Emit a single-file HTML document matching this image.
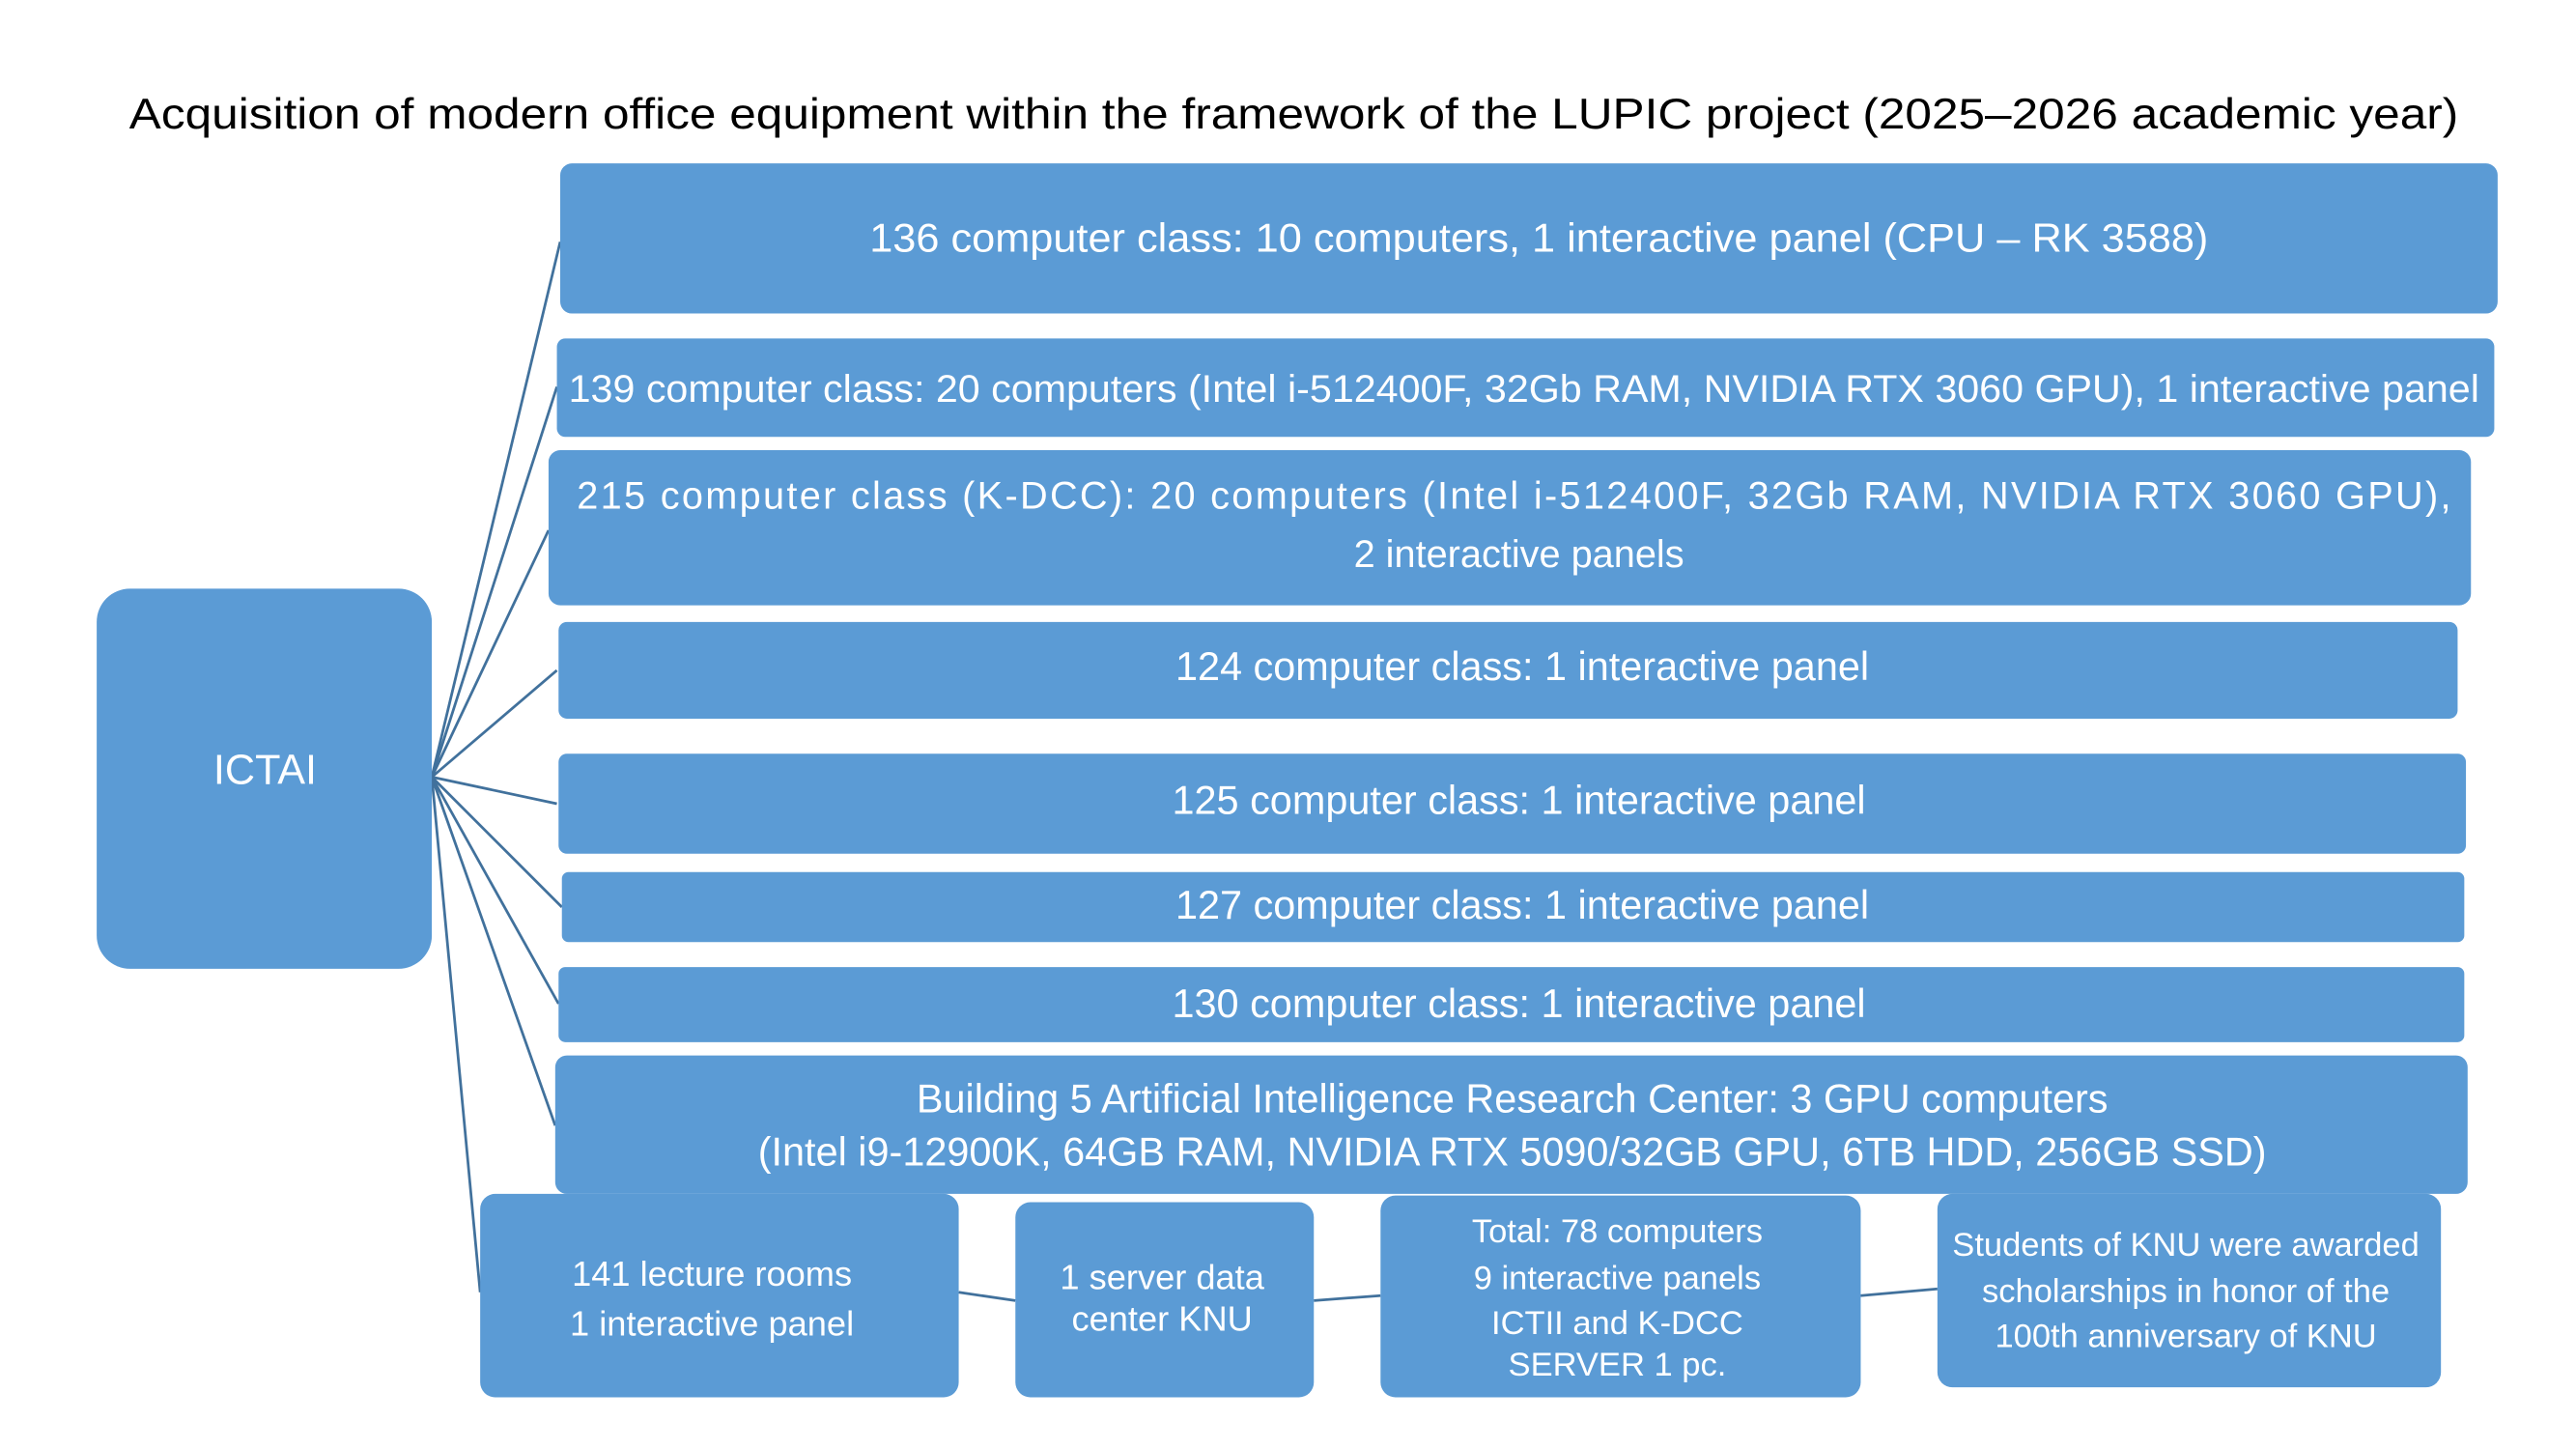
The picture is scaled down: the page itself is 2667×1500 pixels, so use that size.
<!DOCTYPE html>
<html><head><meta charset="utf-8"><style>
html,body{margin:0;padding:0;background:#fff;}
svg{display:block;}
text{font-family:"Liberation Sans",Arial,sans-serif;}
</style></head><body>
<svg width="2667" height="1500" viewBox="0 0 1545 869" preserveAspectRatio="none" xmlns="http://www.w3.org/2000/svg">
<rect width="1545" height="869" fill="#fff"/>
<text x="776" y="77" font-size="26" text-anchor="middle" fill="#000" textLength="1397" lengthAdjust="spacingAndGlyphs">Acquisition of modern office equipment within the framework of the LUPIC project (2025–2026 academic year)</text>
<g stroke="#41719c" stroke-width="1.6" fill="none">
<line x1="259" y1="466" x2="336" y2="145"/>
<line x1="259" y1="466" x2="334" y2="232"/>
<line x1="259" y1="466" x2="329" y2="318"/>
<line x1="259" y1="466" x2="334" y2="402"/>
<line x1="259" y1="466" x2="334" y2="482"/>
<line x1="259" y1="466" x2="337" y2="544"/>
<line x1="259" y1="466" x2="335" y2="602"/>
<line x1="259" y1="466" x2="333" y2="675"/>
<line x1="259" y1="466" x2="288" y2="775"/>
<line x1="575" y1="775" x2="609" y2="780"/>
<line x1="788" y1="780" x2="828" y2="777"/>
<line x1="1116" y1="777" x2="1162" y2="773"/>
</g>
<g fill="#5b9bd5">
<rect x="58" y="353" width="201" height="228" rx="20"/>
<rect x="336" y="98" width="1162" height="90" rx="7"/>
<rect x="334" y="203" width="1162" height="59" rx="5"/>
<rect x="329" y="270" width="1153" height="93" rx="7"/>
<rect x="335" y="373" width="1139" height="58" rx="5"/>
<rect x="335" y="452" width="1144" height="60" rx="5"/>
<rect x="337" y="523" width="1141" height="42" rx="4"/>
<rect x="335" y="580" width="1143" height="45" rx="4"/>
<rect x="333" y="633" width="1147" height="83" rx="7"/>
<rect x="288" y="716" width="287" height="122" rx="9"/>
<rect x="609" y="721" width="179" height="117" rx="9"/>
<rect x="828" y="717" width="288" height="121" rx="9"/>
<rect x="1162" y="716" width="302" height="116" rx="9"/>
</g>
<g fill="#fff" text-anchor="middle" font-size="24">
<text x="159" y="470" font-size="25">ICTAI</text>
<text x="923" y="151" textLength="803" lengthAdjust="spacingAndGlyphs">136 computer class: 10 computers, 1 interactive panel (CPU – RK 3588)</text>
<text x="914" y="241" font-size="23" textLength="1146" lengthAdjust="spacingAndGlyphs">139 computer class: 20 computers (Intel i-512400F, 32Gb RAM, NVIDIA RTX 3060 GPU), 1  interactive panel</text>
<text x="908" y="305" font-size="23" textLength="1124" lengthAdjust="spacing">215  computer  class (K-DCC):  20  computers  (Intel  i-512400F,  32Gb  RAM,  NVIDIA  RTX  3060  GPU),</text>
<text x="911" y="340" font-size="23">2 interactive panels</text>
<text x="913" y="408">124 computer class: 1 interactive panel</text>
<text x="911" y="488">125 computer class: 1 interactive panel</text>
<text x="913" y="551">127 computer class: 1 interactive panel</text>
<text x="911" y="610">130 computer class: 1 interactive panel</text>
<text x="907" y="667">Building 5 Artificial Intelligence Research Center: 3 GPU computers</text>
<text x="907" y="699">(Intel i9-12900K, 64GB RAM, NVIDIA RTX 5090/32GB GPU, 6TB HDD, 256GB SSD)</text>
<g font-size="21">
<text x="427" y="771">141 lecture rooms</text>
<text x="427" y="801">1 interactive panel</text>
<text x="697" y="773">1 server data</text>
<text x="697" y="798">center KNU</text>
<text x="970" y="745" font-size="20">Total: 78 computers</text>
<text x="970" y="773" font-size="20">9 interactive  panels</text>
<text x="970" y="800" font-size="20">ICTII and K-DCC</text>
<text x="970" y="825" font-size="20">SERVER 1 pc.</text>
<text x="1311" y="753" font-size="20">Students of KNU were awarded</text>
<text x="1311" y="781" font-size="20">scholarships in honor of the</text>
<text x="1311" y="808" font-size="20">100th anniversary of KNU</text>
</g>
</g>
</svg>
</body></html>
